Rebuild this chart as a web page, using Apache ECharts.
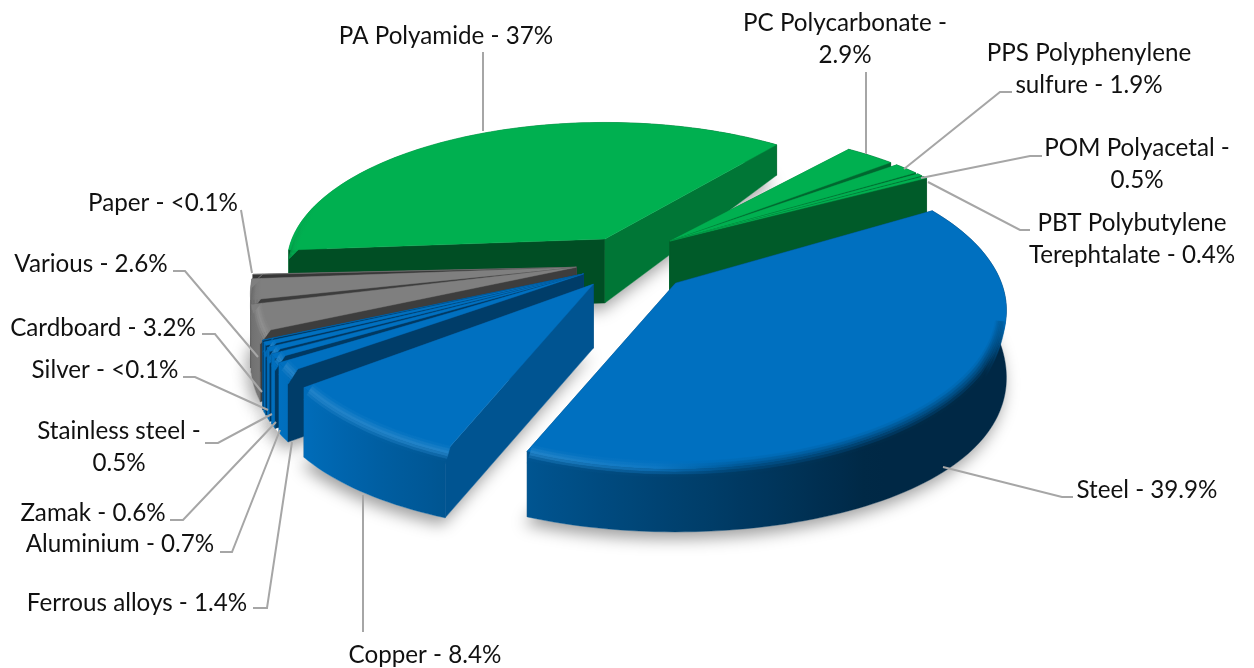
<!DOCTYPE html>
<html><head><meta charset="utf-8">
<style>html,body{margin:0;padding:0;background:#fff}#c{width:1254px;height:668px}</style>
<script src="https://cdn.jsdelivr.net/npm/echarts@6/dist/echarts.min.js"></script>
</head><body><div id="c"></div>
<script>
// ---- data (clockwise from the Steel slice) ----
const categories = ['Steel','Copper','Ferrous alloys','Aluminium','Zamak','Stainless steel','Silver','Cardboard','Various','Paper','PA Polyamide','PC Polycarbonate','PPS Polyphenylene sulfure','POM Polyacetal','PBT Polybutylene Terephtalate'];
const values = [39.9,8.4,1.4,0.7,0.6,0.5,0.05,3.2,2.6,0.05,37,2.9,1.9,0.5,0.4];
const valueLabels = ['39.9%','8.4%','1.4%','0.7%','0.6%','0.5%','<0.1%','3.2%','2.6%','<0.1%','37%','2.9%','1.9%','0.5%','0.4%'];
const groups = ['steel','copper','metals','metals','metals','metals','metals','mixed','mixed','mixed','pa','resins','resins','resins','resins'];

// ---- style / layout ----
const paintOrder = [10,11,12,13,14,9,8,7,6,5,4,3,2,1,0];
const groupStyle = {
  steel:{rgb:[0,112,192],explode:64,scale:1,flat:1,turn:0}, copper:{rgb:[0,112,192],explode:55,scale:1,flat:1,turn:0},
  metals:{rgb:[0,112,192],explode:50,scale:1,flat:1,turn:2}, mixed:{rgb:[127,127,127],explode:52,scale:.985,flat:1,turn:2},
  pa:{rgb:[0,176,80],explode:47,scale:.96,flat:.93,turn:0}, resins:{rgb:[0,176,80],explode:57,scale:1,flat:.87,turn:0}
};
const center = [627,261], startAngle = 59;
const persp = {k:.172, rx:326, ry:153};
const labelStyle = {font:'Lato', size:24.2, lineHeight:32.5, color:'#111'};
const labelBoxes = {
 0:{at:[1147,490]},1:{at:[425,655]},2:{at:[137,603]},3:{at:[120,544]},4:{at:[93,513]},
 5:{at:[119,447],text:'Stainless steel -\n0.5%'},6:{at:[105,370]},7:{at:[103,328]},8:{at:[91,264]},9:{at:[163,203]},
 10:{at:[446,36]},11:{at:[845,39],text:'PC Polycarbonate -\n2.9%'},12:{at:[1089,69],text:'PPS Polyphenylene\nsulfure - 1.9%'},
 13:{at:[1137,164],text:'POM Polyacetal -\n0.5%'},14:{at:[1132,239],text:'PBT Polybutylene\nTerephtalate - 0.4%'}
};
const leaders = {
 0:[[943,467],[1062,497],[1073,497]],1:[[363,495],[363,632]],2:[[292,442],[267,608],[253,608]],
 3:[[280,430],[232,552],[220,552]],4:[[276,422],[183,520],[170,520]],5:[[272,414],[218,443],[205,443]],
 6:[[268,410],[195,377],[183,377]],7:[[262,392],[215,334],[202,334]],8:[[258,357],[185,271],[173,271]],
 9:[[252,273],[241,210]],10:[[483,131],[483,52]],11:[[866,154],[866,72]],12:[[904,169],[1000,92],[1012,92]],
 13:[[921,178],[1030,156],[1042,156]],14:[[928,182],[1020,230],[1030,230]]
};

// ---- geometry derived from the values ----
const total = values.reduce((a,b)=>a+b,0);
const spans = []; { let a = startAngle; values.forEach((v,i)=>{ const w=v/total*360, t=groupStyle[groups[i]].turn; spans.push([a+t,a+w+t]); a+=w; }); }
const apex = {};
Object.keys(groupStyle).forEach(g=>{
  const idx = groups.map((x,i)=>x===g?i:-1).filter(i=>i>=0);
  const mid = (spans[idx[0]][0]+spans[idx[idx.length-1]][1])/2*Math.PI/180;
  const e = groupStyle[g].explode;
  apex[g] = [center[0]+e*Math.sin(mid), center[1]-e*Math.cos(mid)*0.53];
});
const depth = y => 64+24*y-24*y*y;
function proj(g,deg,r,z){
  const t=deg*Math.PI/180, x=Math.sin(t)*r, y=-Math.cos(t)*r, st=groupStyle[g], sc=st.scale/(1-persp.k*y);
  const a=apex[g];
  return [a[0]+x*persp.rx*sc, a[1]+y*persp.ry*st.flat*sc+(z===true?depth(y):(z||0))];
}
function interp(tab,a){
  a=((a%360)+360)%360;
  for(let i=1;i<tab.length;i++) if(a<=tab[i][0]){
    const [a0,v0]=tab[i-1],[a1,v1]=tab[i]; return v0+(v1-v0)*(a-a0)/(a1-a0);
  }
  return tab[tab.length-1][1];
}
const wallTab=[[0,.36],[150,.36],[180,.58],[208,.8],[225,.92],[238,1],[265,.82],[290,.7],[360,.5]];
const cutTab=[[0,.63],[118,.76],[133,.63],[154,.48],[171,.47],[180,.42],[270,.5],[300,.63],[360,.63]];
const glowTab=[[0,0],[170,0],[200,.14],[245,.14],[265,.03],[360,.03]];
const rgbs=(c,f)=>`rgb(${c.map(v=>Math.min(255,Math.round(v*f))).join(',')})`;
const clamp01=v=>Math.max(0,Math.min(1,v));
function arc(g,a0,a1,r,z){ const n=Math.max(2,Math.ceil((a1-a0)/1.5)),o=[];
  for(let i=0;i<=n;i++) o.push(proj(g,a0+(a1-a0)*i/n,r,typeof z==='function'?z(a0+(a1-a0)*i/n):z)); return o; }
// horizontal gradient whose colour follows the rim angle
function rimGradient(g,a0,a1,colorAt){
  const n=Math.max(2,Math.ceil((a1-a0)/4)), pts=[];
  for(let i=0;i<=n;i++){ const a=a0+(a1-a0)*i/n; if(-Math.cos(a*Math.PI/180)>-.12||i===0||i===n) pts.push([proj(g,a,1,0)[0],colorAt(a)]); }
  let lo=Infinity,hi=-Infinity; pts.forEach(p=>{lo=Math.min(lo,p[0]);hi=Math.max(hi,p[0]);});
  if(hi-lo<1) hi=lo+1;
  pts.sort((p,q)=>p[0]-q[0]);
  return {type:'linear',global:true,x:lo,y:0,x2:hi,y2:0,colorStops:pts.map(p=>({offset:(p[0]-lo)/(hi-lo),color:p[1]}))};
}
const bandCount=7, rimStart=104, rimEnd=285;
const rimFade=m=>clamp01((m-rimStart)/16)*clamp01((rimEnd-m)/25);
function rimColor(c,a,tRaw){
  const m=(a+360)%360, t=tRaw*rimFade(m);
  const w=interp(wallTab,m), L=interp(glowTab,m), blend=Math.min(1,L/.06);
  const mid=c.map(v=>{const soft=v*(1+w)/2, glow=v+(255-v)*L; return soft+(glow-soft)*blend;});
  const end=c.map(v=>v*w);
  const col=t<.4?c.map((v,i)=>v+(mid[i]-v)*t/.4):(t<.8?mid.map((v,i)=>v+(end[i]-v)*(t-.4)/.4):end);
  return `rgb(${col.map(Math.round).join(',')})`;
}
function renderSlice(params,api){
  const i=api.value(0), g=groups[i], c=groupStyle[g].rgb;
  let [a0,a1]=spans[i]; const w=a1-a0, gap=Math.min(1.6,w*.35);
  if(g==='resins' && i!==11) a0+=gap;
  if(g==='metals'||g==='mixed') a1-=gap;
  const ap=apex[g], kids=[]; let z=(paintOrder.indexOf(i)+1)*100;
  const poly=(pts,fill)=>kids.push({type:'polygon',shape:{points:pts},
     style:{fill:fill,stroke:fill,lineWidth:.4},z2:z++,silent:true});
  const apB=[ap[0],ap[1]+depth(0)];
  const cut=(a,phi)=>poly([ap,proj(g,a,1,0),proj(g,a,1,true),apB],rgbs(c,interp(cutTab,phi)));
  const facing=p=>Math.cos(p*Math.PI/180)<0;
  const cuts=[[a0,a0-90],[a1,a1+90]];
  cuts.filter(k=>!facing(k[1])).forEach(k=>cut(k[0],k[1]));
  // outer wall
  const wallFill=rimGradient(g,a0,a1,a=>rgbs(c,interp(wallTab,a)));
  poly(arc(g,a0,a1,1,0).concat(arc(g,a0,a1,1,true).reverse()),wallFill);
  cuts.filter(k=>facing(k[1])).forEach(k=>cut(k[0],k[1]));
  // top
  poly([ap].concat(arc(g,a0,a1,1,0)),rgbs(c,1));
  // rounded rim
  const nlo=((a0%360)+360)%360;
  const bev=d=>12*rimFade((d+360)%360);
  const from=Math.max(nlo,rimStart), to=Math.min(nlo+(a1-a0),rimEnd);
  if(to>from){
    const inner=.97;
    for(let b=0;b<bandCount;b++){
      const t0=b/bandCount,t1=(b+1)/bandCount;
      const r0=inner+(1-inner)*t0, r1=inner+(1-inner)*t1;
      const fill=rimGradient(g,from,to,a=>rimColor(c,a,(t0+t1)/2));
      poly(arc(g,from,to,r0,a=>bev(a)*t0).concat(arc(g,from,to,r1,a=>bev(a)*t1).reverse()),fill);
    }
  }
  return {type:'group',children:kids};
}
function renderShadow(params,api){
  const i=api.value(0), g=groups[i]; const [a0,a1]=spans[i];
  const pts=[[apex[g][0],apex[g][1]+depth(0)]].concat(arc(g,a0,a1,1,true));
  return {type:'polygon',shape:{points:pts},silent:true,
    style:{fill:'#fff',shadowBlur:16,shadowColor:'rgba(0,0,0,.38)',shadowOffsetX:-3,shadowOffsetY:7}};
}
const sliceData = paintOrder.map(i=>({name:categories[i],value:[i,values[i]]}));
const graphics=[];
categories.forEach((name,i)=>{
  const b=labelBoxes[i];
  graphics.push({type:'polyline',silent:true,z:5,shape:{points:leaders[i]},style:{fill:null,stroke:'#a6a6a6',lineWidth:2}});
  graphics.push({type:'text',silent:true,z:6,x:b.at[0],y:b.at[1],style:{
    text:b.text||(name+' - '+valueLabels[i]),fill:labelStyle.color,font:labelStyle.size+'px '+labelStyle.font,
    fontFamily:labelStyle.font,fontSize:labelStyle.size,align:'center',verticalAlign:'middle',lineHeight:labelStyle.lineHeight}});
});
const chart=echarts.init(document.getElementById('c'),null,{renderer:'canvas'});
chart.setOption({
  animation:false, backgroundColor:'#fff',
  series:[
    {type:'custom',coordinateSystem:'none',renderItem:renderShadow,data:sliceData,z:1,silent:true},
    {type:'custom',coordinateSystem:'none',renderItem:renderSlice,data:sliceData,z:2,silent:true}
  ],
  graphic:graphics
});
</script></body></html>
